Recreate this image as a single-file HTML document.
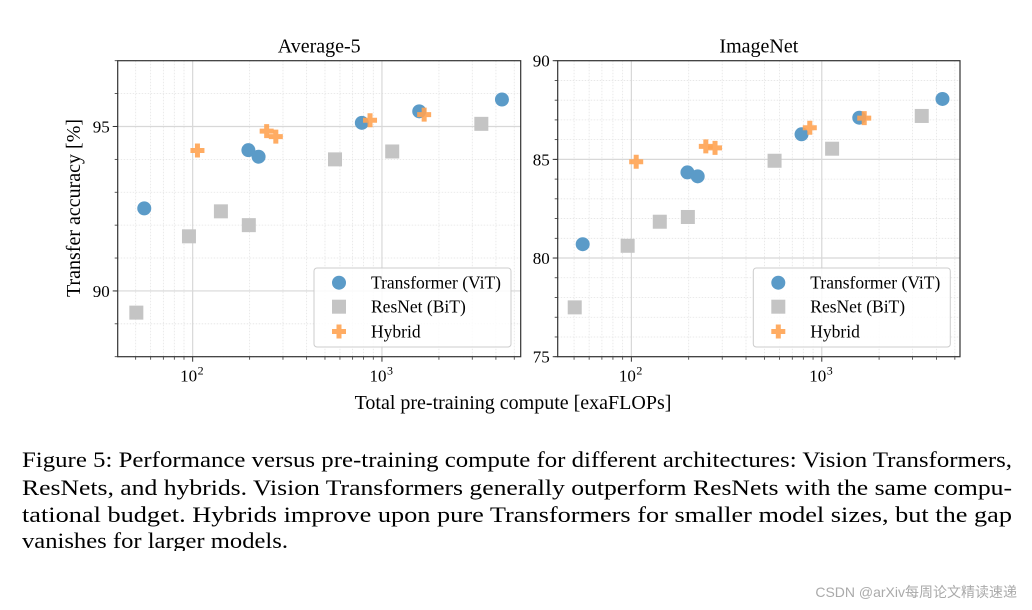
<!DOCTYPE html>
<html><head><meta charset="utf-8"><style>
html,body{margin:0;padding:0;background:#fff;}
svg{display:block;font-family:"Liberation Serif",serif;}
</style></head><body>
<svg id="fig" width="1032" height="610" viewBox="0 0 1032 610">
<rect width="1032" height="610" fill="#fff"/>
<g id="left"></g>
<g id="right"></g>
<text x="80" y="208" font-size="20" text-anchor="middle" transform="rotate(-90 80 208)">Transfer accuracy [%]</text>
<text x="513" y="409" font-size="20" text-anchor="middle">Total pre-training compute [exaFLOPs]</text>
<g font-size="22">
<text x="22" y="467" textLength="990" lengthAdjust="spacingAndGlyphs">Figure 5: Performance versus pre-training compute for different architectures: Vision Transformers,</text>
<text x="22" y="495" textLength="990" lengthAdjust="spacingAndGlyphs">ResNets, and hybrids.  Vision Transformers generally outperform ResNets with the same compu-</text>
<text x="22" y="522" textLength="990" lengthAdjust="spacingAndGlyphs">tational budget.  Hybrids improve upon pure Transformers for smaller model sizes, but the gap</text>
<text x="22" y="548" textLength="266" lengthAdjust="spacingAndGlyphs">vanishes for larger models.</text>
</g>
<rect x="0" y="551" width="1032" height="10" fill="#fff"/>
<text x="1017" y="597" font-size="14" fill="#aaa" text-anchor="end" font-family="Liberation Sans, Noto Sans CJK SC, sans-serif">CSDN @arXiv每周论文精读速递</text>
</svg>
<script>
const avgViTX=[55.5,197,223,783,1574,4305];
const avgViTY=[92.51,94.28,94.08,95.11,95.46,95.82];
const avgResX=[50.4,95.6,141,198,565,1133,3350];
const avgResY=[89.34,91.66,92.42,92.0,94.0,94.24,95.08];
const avgHybX=[106,246,275,865,1671];
const avgHybY=[94.27,94.86,94.69,95.19,95.36];
const inViTY=[80.7,84.34,84.14,86.27,87.11,88.06];
const inResY=[77.5,80.62,81.84,82.08,84.93,85.54,87.2];
const inHybY=[84.88,85.66,85.58,86.6,87.09];
const avgYTicks=[90,95];
const inYTicks=[75,80,85,90];

const NS="http://www.w3.org/2000/svg";
function mk(p,tag,at){const e=document.createElementNS(NS,tag);for(const k in at)e.setAttribute(k,at[k]);p.appendChild(e);return e;}

function panel(g,x0,x1,y0,y1,lx0,lx1,ymin,ymax,yTicks,title,vx,vy,rx,ry,hx,hy,legX){
  const X=v=>x0+(Math.log10(v)-lx0)/(lx1-lx0)*(x1-x0);
  const Y=v=>y1-(v-ymin)/(ymax-ymin)*(y1-y0);
  for(let d=1;d<=3;d++)for(let m=2;m<=9;m++){const v=m*Math.pow(10,d);const px=X(v);if(px>x0&&px<x1){
    const l=mk(g,'line',{x1:px,x2:px,y1:y0,y2:y1,stroke:'#e4e4e4','stroke-width':0.8,'stroke-dasharray':'1.5,1.5'});
    
    
    mk(g,'line',{x1:px,x2:px,y1:y1,y2:y1+3,stroke:'#333','stroke-width':0.8});}}
  for(let v=Math.ceil(ymin);v<=ymax;v++){const py=Y(v);
    const l=mk(g,'line',{x1:x0,x2:x1,y1:py,y2:py,stroke:'#e4e4e4','stroke-width':0.8,'stroke-dasharray':'1.5,1.5'});
    
    
    mk(g,'line',{x1:x0-3,x2:x0,y1:py,y2:py,stroke:'#333','stroke-width':0.8});}
  [100,1000].forEach((v,i)=>{const px=X(v);
    const l=mk(g,'line',{x1:px,x2:px,y1:y0,y2:y1,stroke:'#d8d8d8','stroke-width':1.2});
    
    
    mk(g,'line',{x1:px,x2:px,y1:y1,y2:y1+5,stroke:'#333','stroke-width':1});
    const t=mk(g,'text',{x:px-4,y:y1+25,'font-size':17,'text-anchor':'middle'});t.textContent='10';
    
    
    const s=mk(g,'text',{x:px+5,y:y1+18,'font-size':12});s.textContent=i?'3':'2';});
  yTicks.forEach(v=>{const py=Y(v);
    const l=mk(g,'line',{x1:x0,x2:x1,y1:py,y2:py,stroke:'#d8d8d8','stroke-width':1.2});
    
    
    mk(g,'line',{x1:x0-5,x2:x0,y1:py,y2:py,stroke:'#333','stroke-width':1});
    const t=mk(g,'text',{x:x0-8,y:py+6,'font-size':17,'text-anchor':'end'});t.textContent=v;
    
    });
  const fr=mk(g,'rect',{x:x0,y:y0,width:x1-x0,height:y1-y0,fill:'none',stroke:'#333','stroke-width':1.2});
  
  
  const tt=mk(g,'text',{x:(x0+x1)/2,y:y0-8,'font-size':20,'text-anchor':'middle'});tt.textContent=title;
  
  
  const circ=(p,cx,cy)=>mk(p,'circle',{cx,cy,r:7,fill:'#5b9bc8'});
  const sq=(p,cx,cy)=>mk(p,'rect',{x:cx-7,y:cy-7,width:14,height:14,fill:'#c4c4c4'});
  const plus=(p,cx,cy)=>mk(p,'path',{d:`M${cx-2.5},${cy-7}h5v4.5h4.5v5h-4.5v4.5h-5v-4.5h-4.5v-5h4.5z`,fill:'#ffa352',opacity:0.9});
  rx.forEach((v,i)=>{const e=sq(g,X(v),Y(ry[i]));
    
    });
  vx.forEach((v,i)=>{const e=circ(g,X(v),Y(vy[i]));
    
    });
  hx.forEach((v,i)=>{const e=plus(g,X(v),Y(hy[i]));
    
    });
  const lg=mk(g,'g',{});
  
  
  mk(lg,'rect',{x:legX,y:268,width:197,height:79,rx:3,fill:'#fff','fill-opacity':0.85,stroke:'#ccc','stroke-width':1});
  const labs=['Transformer (ViT)','ResNet (BiT)','Hybrid'];const ys=[282.7,306.7,331.5];const fns=[circ,sq,plus];
  labs.forEach((s,i)=>{const e=fns[i](lg,legX+25,ys[i]);
    
    
    const t=mk(lg,'text',{x:legX+57,y:ys[i]+6,'font-size':17.5});t.textContent=s;
    
    });
}
panel(document.getElementById('left'),117.7,520.7,60.7,356.7,1.604,3.733,88,97,avgYTicks,'Average-5',avgViTX,avgViTY,avgResX,avgResY,avgHybX,avgHybY,314);
panel(document.getElementById('right'),557.7,960,60.7,356.7,1.613,3.726,75,90,inYTicks,'ImageNet',avgViTX,inViTY,avgResX,inResY,avgHybX,inHybY,753.3);
</script>
</body></html>
